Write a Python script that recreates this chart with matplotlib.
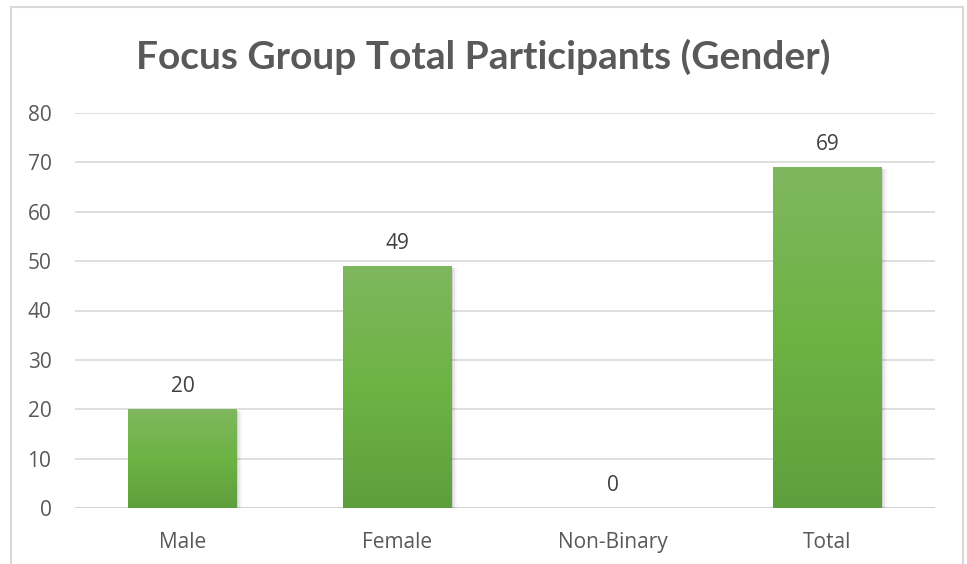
import numpy as np
import matplotlib
matplotlib.use("Agg")
from matplotlib import pyplot as plt
from matplotlib.colors import LinearSegmentedColormap
from matplotlib.patches import Rectangle
from matplotlib.lines import Line2D

categories = ["Male", "Female", "Non-Binary", "Total"]
participants = [20, 49, 0, 69]
y_ticks = [0, 10, 20, 30, 40, 50, 60, 70, 80]

W, H = 967, 564
fig = plt.figure(figsize=(W / 100, H / 100), dpi=100)
fig.patch.set_facecolor("white")

# frame around the chart area (left, top, right only)
grey = "#d9d9d9"
fig.add_artist(Line2D([11 / W, 11 / W], [0, 1 - 7 / H], color=grey, lw=1.5))
fig.add_artist(Line2D([11 / W, 963 / W], [1 - 7 / H, 1 - 7 / H], color=grey, lw=1.5))
fig.add_artist(Line2D([963 / W, 963 / W], [0, 1 - 7 / H], color=grey, lw=1.5))

# plot area: x 75..935, y(80)=113, y(0)=508
left, right = 75 / W, 935 / W
top, bottom = 1 - 113 / H, 1 - 508 / H
ax = fig.add_axes([left, bottom, right - left, top - bottom])
ax.set_xlim(-0.5, len(categories) - 0.5)
ax.set_ylim(0, 80)

for s in ax.spines.values():
    s.set_visible(False)
ax.set_yticks(y_ticks)
ax.yaxis.grid(True, color="#d9d9d9", lw=1.2)
ax.set_axisbelow(True)
ax.axhline(0, color="#d0d0d0", lw=2, zorder=1)
ax.tick_params(axis="both", length=0, labelsize=15, labelcolor="#595959")
ax.tick_params(axis="y", pad=17)
ax.tick_params(axis="x", pad=17)
ax.set_xticks(range(len(categories)))
ax.set_xticklabels(categories, fontfamily="Open Sans")
for lbl in ax.get_yticklabels():
    lbl.set_fontfamily("Open Sans")

green = LinearSegmentedColormap.from_list(
    "bar_green", ["#5e9f3d", "#6db343", "#7fb75f"])
grad = np.linspace(0, 1, 256).reshape(-1, 1)
bar_w = 0.505

bars = ax.bar(range(len(categories)), participants, width=bar_w,
              color="none", edgecolor="none", zorder=3)
for i, (b, v) in enumerate(zip(bars, participants)):
    if v > 0:
        # soft shadow to the right of the bar
        for k, a in enumerate([0.10, 0.06, 0.03]):
            ax.add_patch(Rectangle((b.get_x() + 0.004 * k, -0.3), bar_w + 0.006 * (k + 1), v,
                                   facecolor="#000000", alpha=a, lw=0, zorder=2))
        im = ax.imshow(grad, cmap=green, origin="lower", aspect="auto",
                       extent=[b.get_x(), b.get_x() + bar_w, 0, v], zorder=3)
        im.set_clip_path(b)
    ax.text(i, v + 2.4, str(v), ha="center", va="bottom", fontsize=15,
            color="#404040", fontfamily="Open Sans")

ax.set_xlim(-0.5, len(categories) - 0.5)
ax.set_ylim(0, 80)

fig.text(0.5, 1 - 57 / H, "Focus Group Total Participants (Gender)",
         ha="center", va="center", fontsize=28, fontweight="bold",
         color="#595959", fontfamily="Lato")

fig.savefig("out.png", dpi=100, facecolor="white")
